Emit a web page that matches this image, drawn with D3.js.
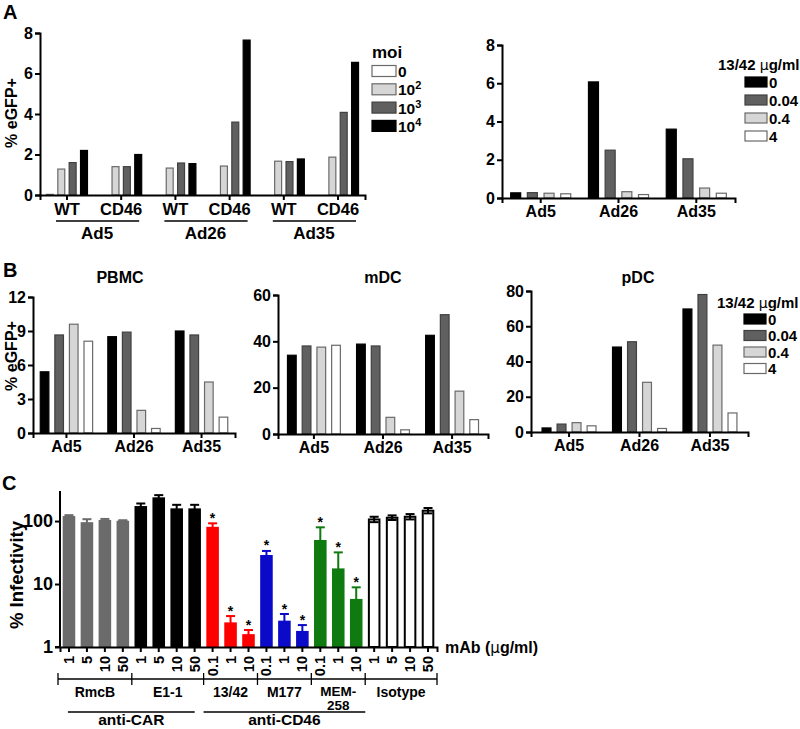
<!DOCTYPE html>
<html><head><meta charset="utf-8">
<script src="https://cdn.jsdelivr.net/npm/d3@7"></script>
<style>
body{margin:0;background:#fff}
svg text{font-family:"Liberation Sans",Arial,sans-serif;font-weight:bold;fill:#000}
</style>
</head><body>
<svg id="fig" width="800" height="729" xmlns="http://www.w3.org/2000/svg"></svg>
<script>
// ---------- DATA ----------
// Panel A left: moi series for each virus x receptor group
const aGroups = ["Ad5 WT", "Ad5 CD46", "Ad26 WT", "Ad26 CD46", "Ad35 WT", "Ad35 CD46"];
const aSubLabels = ["WT", "CD46", "WT", "CD46", "WT", "CD46"];
const aVirusLabels = ["Ad5", "Ad26", "Ad35"];
const moiKeys = ["0", "2", "3", "4"];          // 0, 10^2, 10^3, 10^4
const moi0 = [0.03, 0, 0, 0, 0, 0];
const moi2 = [1.28, 1.40, 1.33, 1.43, 1.67, 1.87];
const moi3 = [1.60, 1.40, 1.58, 3.60, 1.65, 4.08];
const moi4 = [2.20, 2.00, 1.55, 7.65, 1.78, 6.55];
const aLeftTicks = [0, 2, 4, 6, 8];

// Doses of 13/42 (µg/ml)
const viruses = ["Ad5", "Ad26", "Ad35"];
const doseKeys = ["0", "0.04", "0.4", "4"];
// Panel A right
const aR_d0   = [0.27, 6.07, 3.60];
const aR_d004 = [0.28, 2.50, 2.05];
const aR_d04  = [0.25, 0.33, 0.52];
const aR_d4   = [0.22, 0.18, 0.25];
const aRightTicks = [0, 2, 4, 6, 8];
// Panel B PBMC
const pbmc_d0   = [5.4, 8.5, 9.0];
const pbmc_d004 = [8.65, 8.9, 8.65];
const pbmc_d04  = [9.6, 2.0, 4.5];
const pbmc_d4   = [8.1, 0.4, 1.4];
const pbmcTicks = [0, 3, 6, 9, 12];
// Panel B mDC
const mdc_d0   = [34.0, 38.8, 42.6];
const mdc_d004 = [38.0, 38.0, 51.5];
const mdc_d04  = [37.5, 7.2, 18.5];
const mdc_d4   = [38.3, 1.8, 6.2];
const mdcTicks = [0, 20, 40, 60];
// Panel B pDC
const pdc_d0   = [2.3, 48.2, 69.8];
const pdc_d004 = [4.5, 51.2, 78.0];
const pdc_d04  = [5.3, 28.2, 49.3];
const pdc_d4   = [3.5, 2.0, 10.8];
const pdcTicks = [0, 20, 40, 60, 80];

// Panel C: % infectivity with mAb
const cDoseLabels = ["1","5","10","50","1","5","10","50","0.1","1","10","0.1","1","10","0.1","1","10","1","5","10","50"];
const cMeans = [120, 96, 104, 101, 173, 238, 159, 159, 81, 2.46, 1.6, 28.9, 2.62, 1.8, 50, 17.7, 5.8, 106, 113, 117, 146];
const cUpper = [124, 107, 108, 103, 190, 258, 181, 181, 92, 3.1, 1.86, 33.5, 3.34, 2.23, 79.5, 31.8, 8.86, 117, 123, 129, 161];
const cStar  = [0,0,0,0, 0,0,0,0, 1,1,1, 1,1,1, 1,1,1, 0,0,0,0];
const cAntibodies = ["RmcB", "E1-1", "13/42", "M177", "MEM-258", "Isotype"];
const cAbCounts = [4, 4, 3, 3, 3, 4];
const cTargets = ["anti-CAR", "anti-CD46"];
const cTargetSpan = [[0, 1], [2, 4]];
const cTicks = [1, 10, 100];

// ---------- STYLE ----------
const svg = d3.select("#fig");
const F = "Liberation Sans, Arial, sans-serif";
const moiFill = ["#ffffff", "#d6d6d6", "#606060", "#000000"];
const moiStroke = ["#6a6a6a", "#6a6a6a", "#404040", "#000000"];
const doseFill = ["#000000", "#606060", "#d6d6d6", "#ffffff"];
const doseStroke = ["#000000", "#404040", "#6a6a6a", "#6a6a6a"];
const abFill = ["#6b6b6b", "#000000", "#ff0000", "#0a0ac8", "#0f7a0f", "#ffffff"];
const abLine = ["#6b6b6b", "#000000", "#ff0000", "#0a0ac8", "#0f7a0f", "#000000"];

function styleAxis(g, fs) {
  g.select(".domain").attr("stroke", "#000").attr("stroke-width", 2);
  g.selectAll(".tick line").attr("stroke", "#000").attr("stroke-width", 2);
  g.selectAll(".tick text").attr("font-family", F).attr("font-weight", "bold").attr("font-size", fs).attr("fill", "#000");
}

// generic grouped bar panel
function groupedPanel(o) {
  const g = svg.append("g");
  const x = d3.scaleBand().domain(o.groups).range(o.xr).paddingInner(o.pi).paddingOuter(o.po);
  const xi = d3.scaleBand().domain(o.keys).range([0, x.bandwidth()]).paddingInner(o.pin);
  const y = d3.scaleLinear().domain(o.yd).range(o.yr);
  o.series.forEach((vals, si) => {
    g.selectAll(null).data(vals).enter().append("rect")
      .attr("x", (d, i) => x(o.groups[i]) + xi(o.keys[si]) + 0.5)
      .attr("width", xi.bandwidth() - 1)
      .attr("y", d => y(d))
      .attr("height", d => Math.max(0, y(0) - y(d)))
      .attr("fill", o.fill[si]).attr("stroke", o.stroke[si]).attr("stroke-width", 1.2);
  });
  const ya = g.append("g").attr("transform", `translate(${o.xr[0]},0)`)
    .call(d3.axisLeft(y).tickValues(o.ticks).tickSize(5).tickPadding(2).tickFormat(d3.format("d")));
  styleAxis(ya, o.fs);
  const xa = g.append("g").attr("transform", `translate(0,${o.yr[0]})`)
    .call(d3.axisBottom(x).tickSize(5).tickPadding(3).tickFormat(o.xfmt || (d => d)));
  styleAxis(xa, o.xfs || o.fs);
  return {g, x, y};
}

// ---------- PANEL A LEFT ----------
{
  const p = groupedPanel({
    groups: aGroups, keys: moiKeys, series: [moi0, moi2, moi3, moi4],
    xr: [40, 365], yr: [195, 33], yd: [0, 8], ticks: aLeftTicks,
    pi: 0.225, po: 0.11, pin: 0.3, fill: moiFill, stroke: moiStroke, fs: 16, xfs: 16.5,
    xfmt: (d, i) => aSubLabels[i]
  });
  const x = p.x;
  aVirusLabels.forEach((v, k) => {
    const c0 = x(aGroups[2 * k]) + x.bandwidth() / 2;
    const c1 = x(aGroups[2 * k + 1]) + x.bandwidth() / 2;
    p.g.append("line").attr("x1", c0 - 11).attr("x2", c1 + 18).attr("y1", 221).attr("y2", 221)
      .attr("stroke", "#000").attr("stroke-width", 1.3);
    p.g.append("text").attr("x", (c0 + c1) / 2 + 3).attr("y", 239).attr("text-anchor", "middle")
      .attr("font-size", 17).text(v);
  });
  svg.append("text").attr("transform", "translate(17,113) rotate(-90)").attr("text-anchor", "middle")
    .attr("font-size", 16).text("% eGFP+");
  // legend
  const lg = svg.append("g");
  lg.append("text").attr("x", 372).attr("y", 58).attr("font-size", 17).text("moi");
  moiKeys.forEach((k, i) => {
    const cy = 71 + i * 18.3;
    lg.append("rect").attr("x", 372).attr("y", cy - 5.5).attr("width", 24).attr("height", 11)
      .attr("fill", moiFill[i]).attr("stroke", moiStroke[i]).attr("stroke-width", 1.2);
    const t = lg.append("text").attr("x", 398).attr("y", cy + 6).attr("font-size", 15.5);
    if (k === "0") t.text("0");
    else { t.append("tspan").text("10"); t.append("tspan").attr("dy", -6).attr("font-size", 11).text(k); }
  });
}

// ---------- PANEL A RIGHT ----------
{
  groupedPanel({
    groups: viruses, keys: doseKeys, series: [aR_d0, aR_d004, aR_d04, aR_d4],
    xr: [502, 735], yr: [198, 45], yd: [0, 8], ticks: aRightTicks,
    pi: 0.215, po: 0.105, pin: 0.34, fill: doseFill, stroke: doseStroke, fs: 16
  });
}

function doseLegend(x0, yTitle, y0, step) {
  const lg = svg.append("g");
  const t = lg.append("text").attr("x", x0 - 27).attr("y", yTitle).attr("font-size", 15);
  t.append("tspan").text("13/42 ");
  t.append("tspan").attr("font-weight", "normal").attr("font-family", "DejaVu Sans").attr("font-size", 14).text("µ");
  t.append("tspan").text("g/ml");
  doseKeys.forEach((k, i) => {
    const cy = y0 + i * step;
    lg.append("rect").attr("x", x0).attr("y", cy - 5).attr("width", 22).attr("height", 10)
      .attr("fill", doseFill[i]).attr("stroke", doseStroke[i]).attr("stroke-width", 1.2);
    lg.append("text").attr("x", x0 + 24).attr("y", cy + 5.5).attr("font-size", 15).text(k);
  });
}
doseLegend(745, 70, 82, 18);

// ---------- PANEL LETTERS / TITLES ----------
svg.append("text").attr("x", 3).attr("y", 19).attr("font-size", 20).text("A");
svg.append("text").attr("x", 3).attr("y", 277).attr("font-size", 20).text("B");
svg.append("text").attr("x", 2).attr("y", 490).attr("font-size", 20).text("C");

[["PBMC", 120], ["mDC", 383], ["pDC", 638]].forEach(([t, cx]) =>
  svg.append("text").attr("x", cx).attr("y", 283).attr("text-anchor", "middle").attr("font-size", 16).text(t));

// ---------- PANEL B ----------
groupedPanel({
  groups: viruses, keys: doseKeys, series: [pbmc_d0, pbmc_d004, pbmc_d04, pbmc_d4],
  xr: [33, 235], yr: [433, 297], yd: [0, 12], ticks: pbmcTicks,
  pi: 0.21, po: 0.1, pin: 0.34, fill: doseFill, stroke: doseStroke, fs: 16
});
svg.append("text").attr("transform", "translate(17,356) rotate(-90)").attr("text-anchor", "middle")
  .attr("font-size", 16).text("% eGFP+");
groupedPanel({
  groups: viruses, keys: doseKeys, series: [mdc_d0, mdc_d004, mdc_d04, mdc_d4],
  xr: [278, 488], yr: [434, 295], yd: [0, 60], ticks: mdcTicks,
  pi: 0.22, po: 0.13, pin: 0.34, fill: doseFill, stroke: doseStroke, fs: 16
});
groupedPanel({
  groups: viruses, keys: doseKeys, series: [pdc_d0, pdc_d004, pdc_d04, pdc_d4],
  xr: [531, 748], yr: [432, 291], yd: [0, 80], ticks: pdcTicks,
  pi: 0.22, po: 0.15, pin: 0.34, fill: doseFill, stroke: doseStroke, fs: 16
});
doseLegend(744, 308, 319, 16.5);

// ---------- PANEL C ----------
{
  const g = svg.append("g");
  const idx = cMeans.map((d, i) => i);
  const abOf = [];
  cAbCounts.forEach((n, a) => { for (let k = 0; k < n; k++) abOf.push(a); });
  const x = d3.scaleBand().domain(idx).range([60, 437]).paddingInner(0.3).paddingOuter(0.15);
  const y = d3.scaleLog().domain([1, 300]).range([647, 491]);
  const cx = i => x(i) + x.bandwidth() / 2;
  g.selectAll(null).data(idx).enter().append("rect")
    .attr("x", i => x(i) + (abOf[i] === 5 ? 1 : 0))
    .attr("width", i => x.bandwidth() - (abOf[i] === 5 ? 2 : 0))
    .attr("y", i => y(cMeans[i]))
    .attr("height", i => y(1) - y(cMeans[i]))
    .attr("fill", i => abFill[abOf[i]])
    .attr("stroke", i => abOf[i] === 5 ? "#000" : "none").attr("stroke-width", 2);
  // error bars
  idx.forEach(i => {
    const col = abLine[abOf[i]];
    const lo = cMeans[i] * cMeans[i] / cUpper[i];
    g.append("line").attr("x1", cx(i)).attr("x2", cx(i)).attr("y1", y(lo)).attr("y2", y(cUpper[i]))
      .attr("stroke", col).attr("stroke-width", 2);
    [cUpper[i], lo].forEach(v => g.append("line").attr("x1", cx(i) - 4.5).attr("x2", cx(i) + 4.5)
      .attr("y1", y(v)).attr("y2", y(v)).attr("stroke", col).attr("stroke-width", 2));
    if (cStar[i]) g.append("text").attr("x", cx(i)).attr("y", y(cUpper[i]) - 0.5).attr("text-anchor", "middle")
      .attr("font-size", 14).attr("font-weight", "normal").text("*");
  });
  const ya = g.append("g").attr("transform", "translate(60,0)")
    .call(d3.axisLeft(y).tickValues(cTicks).tickSize(5).tickPadding(2).tickFormat(d3.format("d")));
  styleAxis(ya, 18);
  ya.select(".domain").attr("d", `M-5,${y(1)}H0V491`);
  const xa = g.append("g").attr("transform", "translate(0,647)")
    .call(d3.axisBottom(x).tickSize(5).tickFormat(""));
  styleAxis(xa, 13);
  // rotated dose labels
  idx.forEach(i => g.append("text")
    .attr("transform", `translate(${cx(i) + 5},656) rotate(-90)`)
    .attr("text-anchor", "end").attr("font-size", 14.5).text(cDoseLabels[i]));
  svg.append("text").attr("transform", "translate(23,575) rotate(-90)").attr("text-anchor", "middle")
    .attr("font-size", 18.5).text("% Infectivity");
  const mt = svg.append("text").attr("x", 445).attr("y", 653).attr("font-size", 16);
  mt.append("tspan").text("mAb (");
  mt.append("tspan").attr("font-weight", "normal").attr("font-family", "DejaVu Sans").attr("font-size", 15).text("µ");
  mt.append("tspan").text("g/ml)");
  // antibody brackets
  const bounds = [];
  let start = 0;
  cAbCounts.forEach(n => { bounds.push([start, start + n - 1]); start += n; });
  const edge = (i) => x(i) - x.step() * x.paddingInner() / 2;
  const edges = bounds.map(b => edge(b[0]));
  edges.push(edge(idx.length - 1) + x.step());
  edges[0] = 58;
  g.append("line").attr("x1", edges[0]).attr("x2", edges[edges.length - 1]).attr("y1", 679).attr("y2", 679)
    .attr("stroke", "#000").attr("stroke-width", 1.3);
  edges.forEach(e => g.append("line").attr("x1", e).attr("x2", e).attr("y1", 673).attr("y2", 685)
    .attr("stroke", "#000").attr("stroke-width", 1.3));
  cAntibodies.forEach((a, k) => {
    const mid = (edges[k] + edges[k + 1]) / 2;
    if (a === "MEM-258") {
      const t = g.append("text").attr("x", mid).attr("y", 696).attr("text-anchor", "middle").attr("font-size", 13.5);
      t.append("tspan").attr("x", mid).text("MEM-");
      t.append("tspan").attr("x", mid).attr("dy", 14).text("258");
    } else {
      g.append("text").attr("x", mid).attr("y", 697).attr("text-anchor", "middle").attr("font-size", 14).text(a);
    }
  });
  cTargets.forEach((t, k) => {
    const [a0, a1] = cTargetSpan[k];
    const x1 = (edges[a0] + edges[a0 + 1]) / 2 - 27;
    const x2 = (edges[a1] + edges[a1 + 1]) / 2 + 27;
    g.append("line").attr("x1", x1).attr("x2", x2).attr("y1", 712).attr("y2", 712)
      .attr("stroke", "#000").attr("stroke-width", 1.3);
    g.append("text").attr("x", (x1 + x2) / 2).attr("y", 725).attr("text-anchor", "middle")
      .attr("font-size", 15.5).text(t);
  });
}
</script>
</body></html>
